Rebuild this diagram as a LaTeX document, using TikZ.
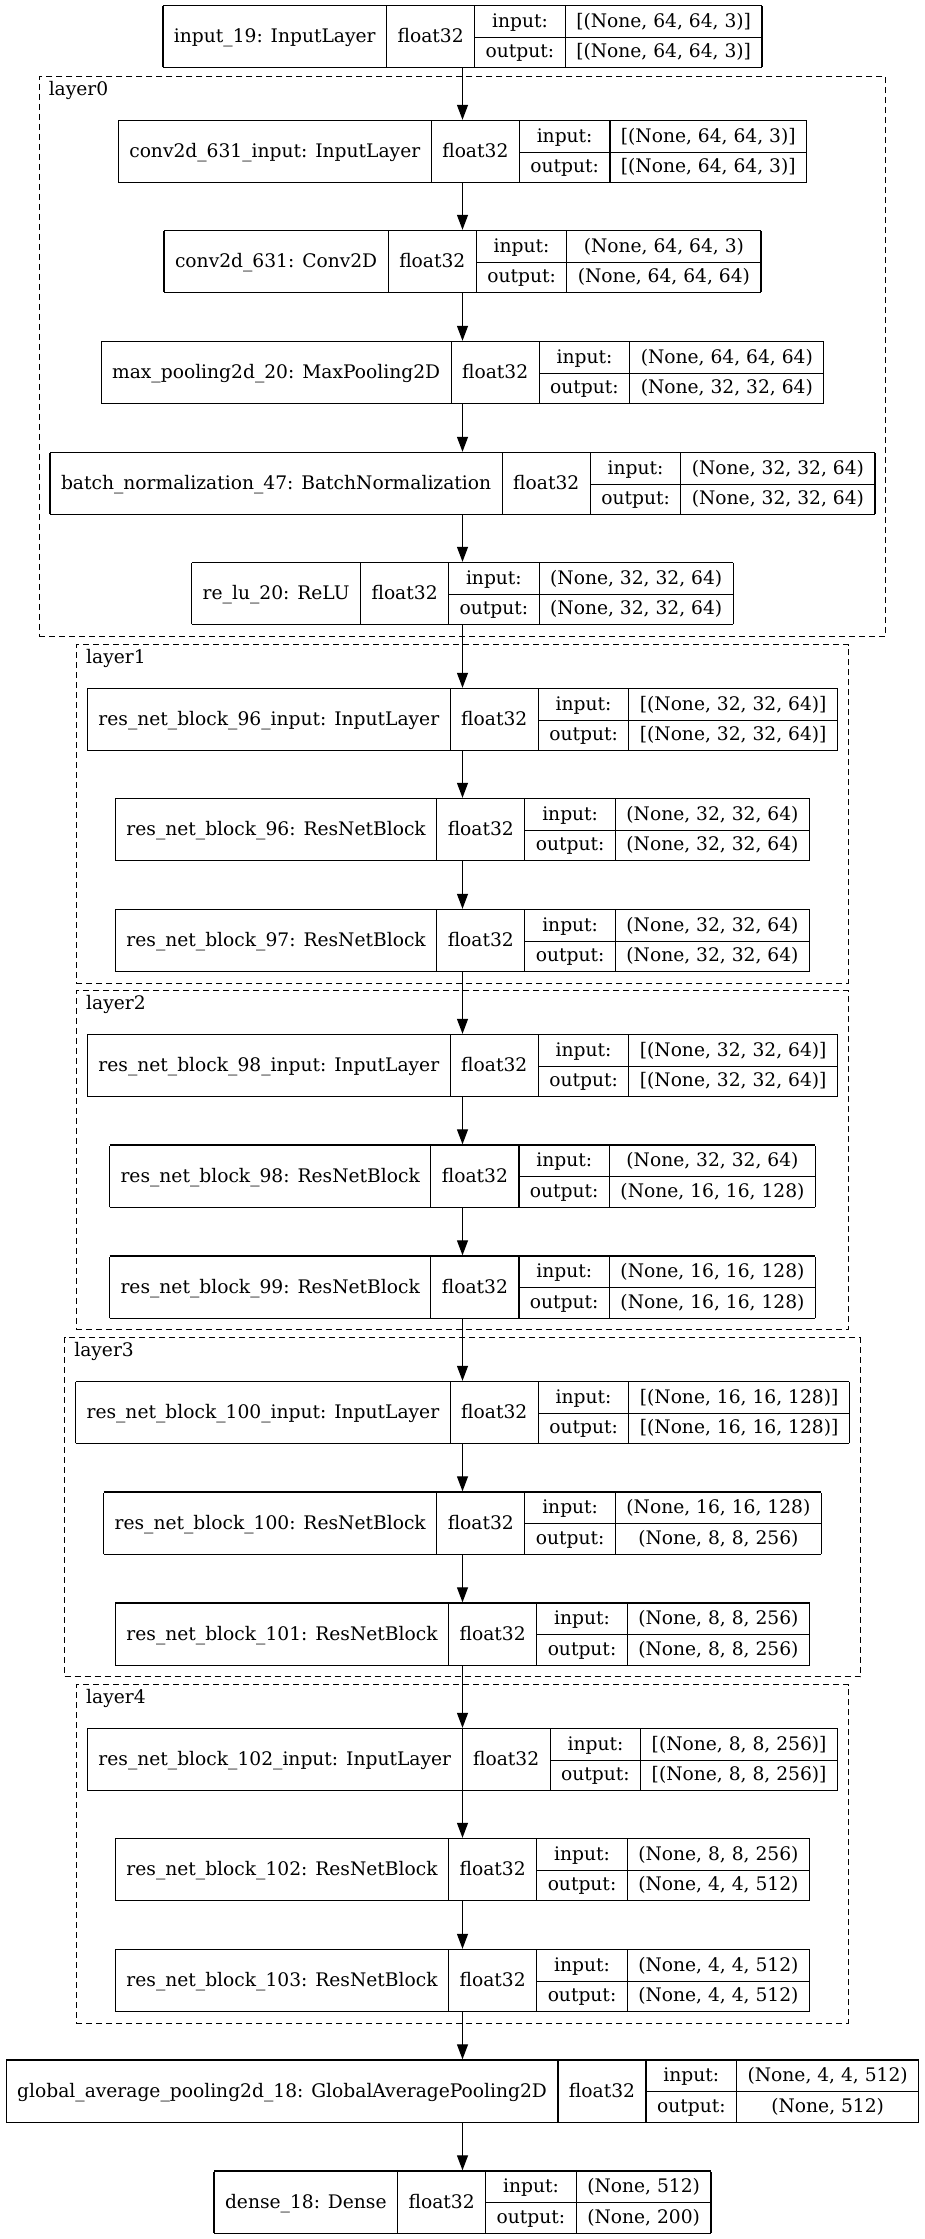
\documentclass[tikz,border=0pt]{standalone}
\usepackage{fontspec}
\setmainfont{DejaVu Serif}
\usepackage{multirow}
\usetikzlibrary{arrows.meta,positioning,fit}
\tikzstyle{layer}=[inner sep=0pt,outer sep=0pt]
\tikzstyle{edge}=[draw,line width=1.2pt,-{Triangle[length=15pt,width=11pt]}]
\tikzstyle{cluster}=[draw,line width=1pt,dash pattern=on 6pt off 4pt,inner sep=11pt]
\tikzstyle{cluster label}=[inner sep=0pt]
\setlength{\tabcolsep}{11pt}
\setlength{\arrayrulewidth}{1.2pt}
% one keras layer as a record: name | dtype | input/output | shapes
\newcommand{\rec}[3]{\begin{tabular}{|c|c|c|c|}\hline
\multirow{2}{*}{#1} & \multirow{2}{*}{float32} & input: & #2\\\cline{3-4}
 & & output: & #3\\\hline
\end{tabular}}

\begin{document}
\fontsize{18.67}{30.5}\selectfont
\begin{tikzpicture}[x=1pt,y=1pt]
    \useasboundingbox (0,0) rectangle (925,-2239);
    % First we draw the layers
    \node[layer] (inp) at (462.5,-36.5) {\rec{input\_19: InputLayer}{[(None, 64, 64, 3)]}{[(None, 64, 64, 3)]}};
    \node[layer] (cvin) at (462.5,-151.5) {\rec{conv2d\_631\_input: InputLayer}{[(None, 64, 64, 3)]}{[(None, 64, 64, 3)]}};
    \node[layer] (cv) at (462.5,-261.5) {\rec{conv2d\_631: Conv2D}{(None, 64, 64, 3)}{(None, 64, 64, 64)}};
    \node[layer] (mp) at (462.5,-372.5) {\rec{max\_pooling2d\_20: MaxPooling2D}{(None, 64, 64, 64)}{(None, 32, 32, 64)}};
    \node[layer] (bn) at (462.5,-483.5) {\rec{batch\_normalization\_47: BatchNormalization}{(None, 32, 32, 64)}{(None, 32, 32, 64)}};
    \node[layer] (relu) at (462.5,-593.5) {\rec{re\_lu\_20: ReLU}{(None, 32, 32, 64)}{(None, 32, 32, 64)}};
    \node[layer] (rb96in) at (462.5,-719.5) {\rec{res\_net\_block\_96\_input: InputLayer}{[(None, 32, 32, 64)]}{[(None, 32, 32, 64)]}};
    \node[layer] (rb96) at (462.5,-829.5) {\rec{res\_net\_block\_96: ResNetBlock}{(None, 32, 32, 64)}{(None, 32, 32, 64)}};
    \node[layer] (rb97) at (462.5,-940.5) {\rec{res\_net\_block\_97: ResNetBlock}{(None, 32, 32, 64)}{(None, 32, 32, 64)}};
    \node[layer] (rb98in) at (462.5,-1065.5) {\rec{res\_net\_block\_98\_input: InputLayer}{[(None, 32, 32, 64)]}{[(None, 32, 32, 64)]}};
    \node[layer] (rb98) at (462.5,-1176) {\rec{res\_net\_block\_98: ResNetBlock}{(None, 32, 32, 64)}{(None, 16, 16, 128)}};
    \node[layer] (rb99) at (462.5,-1287) {\rec{res\_net\_block\_99: ResNetBlock}{(None, 16, 16, 128)}{(None, 16, 16, 128)}};
    \node[layer] (rb100in) at (462.5,-1412.5) {\rec{res\_net\_block\_100\_input: InputLayer}{[(None, 16, 16, 128)]}{[(None, 16, 16, 128)]}};
    \node[layer] (rb100) at (462.5,-1523) {\rec{res\_net\_block\_100: ResNetBlock}{(None, 16, 16, 128)}{(None, 8, 8, 256)}};
    \node[layer] (rb101) at (462.5,-1634) {\rec{res\_net\_block\_101: ResNetBlock}{(None, 8, 8, 256)}{(None, 8, 8, 256)}};
    \node[layer] (rb102in) at (462.5,-1759.5) {\rec{res\_net\_block\_102\_input: InputLayer}{[(None, 8, 8, 256)]}{[(None, 8, 8, 256)]}};
    \node[layer] (rb102) at (462.5,-1869.5) {\rec{res\_net\_block\_102: ResNetBlock}{(None, 8, 8, 256)}{(None, 4, 4, 512)}};
    \node[layer] (rb103) at (462.5,-1980.5) {\rec{res\_net\_block\_103: ResNetBlock}{(None, 4, 4, 512)}{(None, 4, 4, 512)}};
    \node[layer] (gap) at (462.5,-2091) {\rec{global\_average\_pooling2d\_18: GlobalAveragePooling2D}{(None, 4, 4, 512)}{(None, 512)}};
    \node[layer] (dense) at (462.5,-2202) {\rec{dense\_18: Dense}{(None, 512)}{(None, 200)}};

    % Dashed boxes round the sub-models
    \node[cluster, fit={([yshift=32pt]cvin.north)(cvin)(bn)(relu)}] (layer0) {};
    \node[cluster, fit={([yshift=32pt]rb96in.north)(rb96in)(rb97)}] (layer1) {};
    \node[cluster, fit={([yshift=32pt]rb98in.north)(rb98in)(rb99)}] (layer2) {};
    \node[cluster, fit={([yshift=32pt]rb100in.north)(rb100in)(rb101)}] (layer3) {};
    \node[cluster, fit={([yshift=32pt]rb102in.north)(rb102in)(rb103)}] (layer4) {};
    \foreach \name in {layer0,layer1,layer2,layer3,layer4}
        \node[cluster label, below right=5pt and 10pt of \name.north west] {\name};

    % Connect layers with edges
    \foreach \source/\dest in {inp/cvin,cvin/cv,cv/mp,mp/bn,bn/relu,relu/rb96in,rb96in/rb96,rb96/rb97,rb97/rb98in,rb98in/rb98,rb98/rb99,rb99/rb100in,rb100in/rb100,rb100/rb101,rb101/rb102in,rb102in/rb102,rb102/rb103,rb103/gap,gap/dense}
        \path[edge] (\source) -- (\dest);
\end{tikzpicture}
\end{document}
